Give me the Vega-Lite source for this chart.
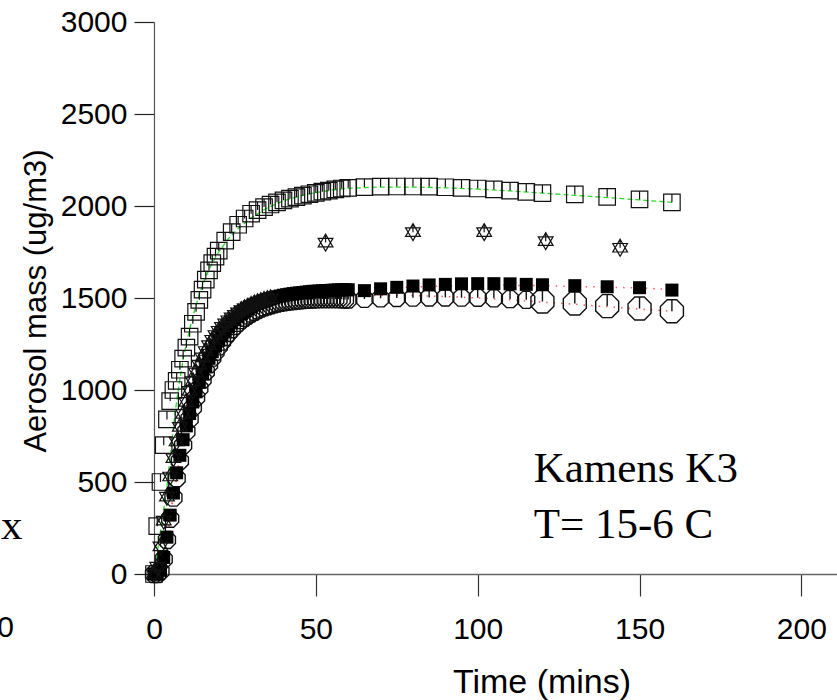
{
  "$schema": "https://vega.github.io/schema/vega-lite/v6.json",
  "width": 683,
  "height": 552,
  "autosize": {"type": "none"},
  "padding": {"left": 154, "top": 22, "right": 0, "bottom": 126},
  "background": "white",
  "config": {"view": {"stroke": null}},
  "datasets": {
    "observed": [
      {"series": "A", "t": 0, "mass": 0}, {"series": "A", "t": 1, "mass": 260}, {"series": "A", "t": 2, "mass": 500}, {"series": "A", "t": 3, "mass": 700},
      {"series": "A", "t": 4, "mass": 840}, {"series": "A", "t": 5, "mass": 940}, {"series": "A", "t": 6, "mass": 1000}, {"series": "A", "t": 7, "mass": 1050},
      {"series": "A", "t": 8, "mass": 1110}, {"series": "A", "t": 9, "mass": 1170}, {"series": "A", "t": 10, "mass": 1230}, {"series": "A", "t": 11, "mass": 1290},
      {"series": "A", "t": 12, "mass": 1360}, {"series": "A", "t": 13, "mass": 1425}, {"series": "A", "t": 14, "mass": 1490}, {"series": "A", "t": 15, "mass": 1545},
      {"series": "A", "t": 16, "mass": 1600}, {"series": "A", "t": 17, "mass": 1650}, {"series": "A", "t": 18, "mass": 1690}, {"series": "A", "t": 19, "mass": 1725},
      {"series": "A", "t": 20, "mass": 1757}, {"series": "A", "t": 22, "mass": 1812}, {"series": "A", "t": 24, "mass": 1858}, {"series": "A", "t": 26, "mass": 1898},
      {"series": "A", "t": 28, "mass": 1932}, {"series": "A", "t": 30, "mass": 1958}, {"series": "A", "t": 32, "mass": 1978}, {"series": "A", "t": 34, "mass": 1994},
      {"series": "A", "t": 36, "mass": 2008}, {"series": "A", "t": 38, "mass": 2020}, {"series": "A", "t": 40, "mass": 2031}, {"series": "A", "t": 42, "mass": 2040},
      {"series": "A", "t": 44, "mass": 2048}, {"series": "A", "t": 46, "mass": 2056}, {"series": "A", "t": 48, "mass": 2064}, {"series": "A", "t": 50, "mass": 2071},
      {"series": "A", "t": 52, "mass": 2078}, {"series": "A", "t": 54, "mass": 2084}, {"series": "A", "t": 56, "mass": 2090}, {"series": "A", "t": 58, "mass": 2095},
      {"series": "A", "t": 60, "mass": 2099}, {"series": "A", "t": 65, "mass": 2103}, {"series": "A", "t": 70, "mass": 2105}, {"series": "A", "t": 75, "mass": 2106},
      {"series": "A", "t": 80, "mass": 2106}, {"series": "A", "t": 85, "mass": 2105}, {"series": "A", "t": 90, "mass": 2102}, {"series": "A", "t": 95, "mass": 2098},
      {"series": "A", "t": 100, "mass": 2095}, {"series": "A", "t": 105, "mass": 2090}, {"series": "A", "t": 110, "mass": 2084}, {"series": "A", "t": 115, "mass": 2077},
      {"series": "A", "t": 120, "mass": 2070}, {"series": "A", "t": 130, "mass": 2063}, {"series": "A", "t": 140, "mass": 2050}, {"series": "A", "t": 150, "mass": 2036},
      {"series": "A", "t": 160, "mass": 2020},

      {"series": "B", "t": 0, "mass": 0}, {"series": "B", "t": 1, "mass": 0}, {"series": "B", "t": 2, "mass": 20}, {"series": "B", "t": 3, "mass": 90},
      {"series": "B", "t": 4, "mass": 200}, {"series": "B", "t": 5, "mass": 320}, {"series": "B", "t": 6, "mass": 440}, {"series": "B", "t": 7, "mass": 550},
      {"series": "B", "t": 8, "mass": 645}, {"series": "B", "t": 9, "mass": 730}, {"series": "B", "t": 10, "mass": 805}, {"series": "B", "t": 11, "mass": 872},
      {"series": "B", "t": 12, "mass": 935}, {"series": "B", "t": 13, "mass": 990}, {"series": "B", "t": 14, "mass": 1042}, {"series": "B", "t": 15, "mass": 1090},
      {"series": "B", "t": 16, "mass": 1133}, {"series": "B", "t": 17, "mass": 1172}, {"series": "B", "t": 18, "mass": 1208}, {"series": "B", "t": 19, "mass": 1240},
      {"series": "B", "t": 20, "mass": 1270}, {"series": "B", "t": 21, "mass": 1297}, {"series": "B", "t": 22, "mass": 1322}, {"series": "B", "t": 23, "mass": 1344},
      {"series": "B", "t": 24, "mass": 1365}, {"series": "B", "t": 25, "mass": 1383}, {"series": "B", "t": 26, "mass": 1400}, {"series": "B", "t": 27, "mass": 1415},
      {"series": "B", "t": 28, "mass": 1428}, {"series": "B", "t": 29, "mass": 1440}, {"series": "B", "t": 30, "mass": 1451}, {"series": "B", "t": 31, "mass": 1461},
      {"series": "B", "t": 32, "mass": 1470}, {"series": "B", "t": 33, "mass": 1478}, {"series": "B", "t": 34, "mass": 1485}, {"series": "B", "t": 35, "mass": 1491},
      {"series": "B", "t": 36, "mass": 1497}, {"series": "B", "t": 37, "mass": 1502}, {"series": "B", "t": 38, "mass": 1507}, {"series": "B", "t": 39, "mass": 1511},
      {"series": "B", "t": 40, "mass": 1515}, {"series": "B", "t": 41, "mass": 1518}, {"series": "B", "t": 42, "mass": 1521}, {"series": "B", "t": 43, "mass": 1524},
      {"series": "B", "t": 44, "mass": 1526}, {"series": "B", "t": 45, "mass": 1528}, {"series": "B", "t": 46, "mass": 1530}, {"series": "B", "t": 47, "mass": 1532},
      {"series": "B", "t": 48, "mass": 1534}, {"series": "B", "t": 49, "mass": 1536}, {"series": "B", "t": 50, "mass": 1537}, {"series": "B", "t": 51, "mass": 1538},
      {"series": "B", "t": 52, "mass": 1539}, {"series": "B", "t": 53, "mass": 1540}, {"series": "B", "t": 54, "mass": 1541}, {"series": "B", "t": 55, "mass": 1542},
      {"series": "B", "t": 56, "mass": 1543}, {"series": "B", "t": 57, "mass": 1544}, {"series": "B", "t": 58, "mass": 1544}, {"series": "B", "t": 59, "mass": 1545},
      {"series": "B", "t": 60, "mass": 1545}, {"series": "B", "t": 65, "mass": 1540}, {"series": "B", "t": 70, "mass": 1550}, {"series": "B", "t": 75, "mass": 1558},
      {"series": "B", "t": 80, "mass": 1565}, {"series": "B", "t": 85, "mass": 1571}, {"series": "B", "t": 90, "mass": 1574}, {"series": "B", "t": 95, "mass": 1577},
      {"series": "B", "t": 100, "mass": 1578}, {"series": "B", "t": 105, "mass": 1578}, {"series": "B", "t": 110, "mass": 1577}, {"series": "B", "t": 115, "mass": 1574},
      {"series": "B", "t": 120, "mass": 1572}, {"series": "B", "t": 130, "mass": 1567}, {"series": "B", "t": 140, "mass": 1561}, {"series": "B", "t": 150, "mass": 1556},
      {"series": "B", "t": 160, "mass": 1543},

      {"series": "C", "t": 0, "mass": 0}, {"series": "C", "t": 1, "mass": 0}, {"series": "C", "t": 2, "mass": 15}, {"series": "C", "t": 3, "mass": 80},
      {"series": "C", "t": 4, "mass": 185}, {"series": "C", "t": 5, "mass": 300}, {"series": "C", "t": 6, "mass": 415}, {"series": "C", "t": 7, "mass": 520},
      {"series": "C", "t": 8, "mass": 615}, {"series": "C", "t": 9, "mass": 700}, {"series": "C", "t": 10, "mass": 775}, {"series": "C", "t": 11, "mass": 843},
      {"series": "C", "t": 12, "mass": 905}, {"series": "C", "t": 13, "mass": 960}, {"series": "C", "t": 14, "mass": 1010}, {"series": "C", "t": 15, "mass": 1057},
      {"series": "C", "t": 16, "mass": 1100}, {"series": "C", "t": 17, "mass": 1140}, {"series": "C", "t": 18, "mass": 1176}, {"series": "C", "t": 19, "mass": 1208},
      {"series": "C", "t": 20, "mass": 1237}, {"series": "C", "t": 21, "mass": 1263}, {"series": "C", "t": 22, "mass": 1288}, {"series": "C", "t": 23, "mass": 1310},
      {"series": "C", "t": 24, "mass": 1330}, {"series": "C", "t": 25, "mass": 1348}, {"series": "C", "t": 26, "mass": 1365}, {"series": "C", "t": 27, "mass": 1380},
      {"series": "C", "t": 28, "mass": 1393}, {"series": "C", "t": 29, "mass": 1405}, {"series": "C", "t": 30, "mass": 1416}, {"series": "C", "t": 31, "mass": 1425},
      {"series": "C", "t": 32, "mass": 1434}, {"series": "C", "t": 33, "mass": 1442}, {"series": "C", "t": 34, "mass": 1449}, {"series": "C", "t": 35, "mass": 1455},
      {"series": "C", "t": 36, "mass": 1461}, {"series": "C", "t": 37, "mass": 1466}, {"series": "C", "t": 38, "mass": 1470}, {"series": "C", "t": 39, "mass": 1474},
      {"series": "C", "t": 40, "mass": 1477}, {"series": "C", "t": 41, "mass": 1480}, {"series": "C", "t": 42, "mass": 1482}, {"series": "C", "t": 43, "mass": 1484},
      {"series": "C", "t": 44, "mass": 1486}, {"series": "C", "t": 45, "mass": 1488}, {"series": "C", "t": 46, "mass": 1489}, {"series": "C", "t": 47, "mass": 1490},
      {"series": "C", "t": 48, "mass": 1491}, {"series": "C", "t": 49, "mass": 1492}, {"series": "C", "t": 50, "mass": 1493}, {"series": "C", "t": 51, "mass": 1494},
      {"series": "C", "t": 52, "mass": 1494}, {"series": "C", "t": 53, "mass": 1494}, {"series": "C", "t": 54, "mass": 1494}, {"series": "C", "t": 55, "mass": 1494},
      {"series": "C", "t": 56, "mass": 1494}, {"series": "C", "t": 57, "mass": 1494}, {"series": "C", "t": 58, "mass": 1493}, {"series": "C", "t": 59, "mass": 1492},
      {"series": "C", "t": 60, "mass": 1492}, {"series": "C", "t": 65, "mass": 1495}, {"series": "C", "t": 70, "mass": 1498}, {"series": "C", "t": 75, "mass": 1500},
      {"series": "C", "t": 80, "mass": 1502}, {"series": "C", "t": 85, "mass": 1503}, {"series": "C", "t": 90, "mass": 1503}, {"series": "C", "t": 95, "mass": 1502},
      {"series": "C", "t": 100, "mass": 1501}, {"series": "C", "t": 105, "mass": 1498}, {"series": "C", "t": 110, "mass": 1494}, {"series": "C", "t": 115, "mass": 1490},
      {"series": "C", "t": 120, "mass": 1481}, {"series": "C", "t": 130, "mass": 1470}, {"series": "C", "t": 140, "mass": 1456}, {"series": "C", "t": 150, "mass": 1443},
      {"series": "C", "t": 160, "mass": 1428},

      {"series": "D", "t": 0, "mass": 0}, {"series": "D", "t": 1, "mass": 40}, {"series": "D", "t": 2, "mass": 150}, {"series": "D", "t": 3, "mass": 290},
      {"series": "D", "t": 4, "mass": 420}, {"series": "D", "t": 5, "mass": 530}, {"series": "D", "t": 6, "mass": 630}, {"series": "D", "t": 7, "mass": 720},
      {"series": "D", "t": 8, "mass": 800}, {"series": "D", "t": 9, "mass": 870}, {"series": "D", "t": 10, "mass": 935}, {"series": "D", "t": 11, "mass": 995},
      {"series": "D", "t": 12, "mass": 1048}, {"series": "D", "t": 13, "mass": 1095}, {"series": "D", "t": 14, "mass": 1138}, {"series": "D", "t": 15, "mass": 1177},
      {"series": "D", "t": 16, "mass": 1212}, {"series": "D", "t": 17, "mass": 1244}, {"series": "D", "t": 18, "mass": 1273}, {"series": "D", "t": 19, "mass": 1299},
      {"series": "D", "t": 20, "mass": 1322}, {"series": "D", "t": 21, "mass": 1343}, {"series": "D", "t": 22, "mass": 1362}, {"series": "D", "t": 23, "mass": 1379},
      {"series": "D", "t": 24, "mass": 1395}, {"series": "D", "t": 25, "mass": 1409}, {"series": "D", "t": 26, "mass": 1422}, {"series": "D", "t": 27, "mass": 1434},
      {"series": "D", "t": 28, "mass": 1444}, {"series": "D", "t": 29, "mass": 1453}, {"series": "D", "t": 30, "mass": 1462}, {"series": "D", "t": 31, "mass": 1470},
      {"series": "D", "t": 32, "mass": 1477}, {"series": "D", "t": 33, "mass": 1483}, {"series": "D", "t": 34, "mass": 1489}, {"series": "D", "t": 35, "mass": 1494},
      {"series": "D", "t": 36, "mass": 1498},
      {"series": "D", "t": 53, "mass": 1801}, {"series": "D", "t": 80, "mass": 1858}, {"series": "D", "t": 102, "mass": 1858},
      {"series": "D", "t": 121, "mass": 1809}, {"series": "D", "t": 144, "mass": 1773}
    ],
    "model": [
      {"series": "A", "t": 0, "mass": 0}, {"series": "A", "t": 2, "mass": 230}, {"series": "A", "t": 4, "mass": 470}, {"series": "A", "t": 5, "mass": 640},
      {"series": "A", "t": 6, "mass": 800}, {"series": "A", "t": 7, "mass": 940}, {"series": "A", "t": 8, "mass": 1060}, {"series": "A", "t": 9, "mass": 1165},
      {"series": "A", "t": 10, "mass": 1255}, {"series": "A", "t": 12, "mass": 1400}, {"series": "A", "t": 14, "mass": 1520}, {"series": "A", "t": 16, "mass": 1615},
      {"series": "A", "t": 18, "mass": 1690}, {"series": "A", "t": 20, "mass": 1750}, {"series": "A", "t": 23, "mass": 1822}, {"series": "A", "t": 26, "mass": 1878},
      {"series": "A", "t": 30, "mass": 1935}, {"series": "A", "t": 35, "mass": 1990}, {"series": "A", "t": 40, "mass": 2028}, {"series": "A", "t": 45, "mass": 2054},
      {"series": "A", "t": 50, "mass": 2073}, {"series": "A", "t": 55, "mass": 2087}, {"series": "A", "t": 60, "mass": 2096}, {"series": "A", "t": 70, "mass": 2103},
      {"series": "A", "t": 80, "mass": 2103}, {"series": "A", "t": 90, "mass": 2099}, {"series": "A", "t": 100, "mass": 2092}, {"series": "A", "t": 110, "mass": 2082},
      {"series": "A", "t": 120, "mass": 2070}, {"series": "A", "t": 130, "mass": 2058}, {"series": "A", "t": 140, "mass": 2046}, {"series": "A", "t": 150, "mass": 2033},
      {"series": "A", "t": 160, "mass": 2020},

      {"series": "B", "t": 0, "mass": 0}, {"series": "B", "t": 2, "mass": 20}, {"series": "B", "t": 4, "mass": 200}, {"series": "B", "t": 6, "mass": 440},
      {"series": "B", "t": 8, "mass": 645}, {"series": "B", "t": 10, "mass": 805}, {"series": "B", "t": 12, "mass": 935}, {"series": "B", "t": 14, "mass": 1042},
      {"series": "B", "t": 16, "mass": 1133}, {"series": "B", "t": 18, "mass": 1208}, {"series": "B", "t": 20, "mass": 1270}, {"series": "B", "t": 25, "mass": 1384},
      {"series": "B", "t": 30, "mass": 1451}, {"series": "B", "t": 35, "mass": 1491}, {"series": "B", "t": 40, "mass": 1515}, {"series": "B", "t": 45, "mass": 1528},
      {"series": "B", "t": 50, "mass": 1537}, {"series": "B", "t": 55, "mass": 1542}, {"series": "B", "t": 60, "mass": 1546}, {"series": "B", "t": 70, "mass": 1552},
      {"series": "B", "t": 80, "mass": 1560}, {"series": "B", "t": 90, "mass": 1566}, {"series": "B", "t": 100, "mass": 1569}, {"series": "B", "t": 110, "mass": 1569},
      {"series": "B", "t": 120, "mass": 1567}, {"series": "B", "t": 130, "mass": 1563}, {"series": "B", "t": 140, "mass": 1559}, {"series": "B", "t": 150, "mass": 1554},
      {"series": "B", "t": 160, "mass": 1547},

      {"series": "C", "t": 0, "mass": 0}, {"series": "C", "t": 2, "mass": 15}, {"series": "C", "t": 4, "mass": 185}, {"series": "C", "t": 6, "mass": 415},
      {"series": "C", "t": 8, "mass": 615}, {"series": "C", "t": 10, "mass": 775}, {"series": "C", "t": 12, "mass": 905}, {"series": "C", "t": 14, "mass": 1010},
      {"series": "C", "t": 16, "mass": 1100}, {"series": "C", "t": 18, "mass": 1176}, {"series": "C", "t": 20, "mass": 1237}, {"series": "C", "t": 25, "mass": 1350},
      {"series": "C", "t": 30, "mass": 1416}, {"series": "C", "t": 35, "mass": 1456}, {"series": "C", "t": 40, "mass": 1480}, {"series": "C", "t": 45, "mass": 1494},
      {"series": "C", "t": 50, "mass": 1503}, {"series": "C", "t": 60, "mass": 1511}, {"series": "C", "t": 70, "mass": 1514}, {"series": "C", "t": 80, "mass": 1513},
      {"series": "C", "t": 90, "mass": 1508}, {"series": "C", "t": 100, "mass": 1500}, {"series": "C", "t": 110, "mass": 1490}, {"series": "C", "t": 120, "mass": 1478},
      {"series": "C", "t": 130, "mass": 1466}, {"series": "C", "t": 140, "mass": 1452}, {"series": "C", "t": 150, "mass": 1440}, {"series": "C", "t": 160, "mass": 1428}
    ],
    "notes": [
      {"t": 117.3, "mass": 502, "label": "Kamens K3"},
      {"t": 117.3, "mass": 198, "label": "T= 15-6 C"}
    ],
    "edge_labels": [
      {"kind": "serif", "t": -40.6, "mass": 188, "label": "x"},
      {"kind": "tick", "t": -51, "mass": -340, "label": "200"}
    ]
  },
  "encoding": {
    "x": {
      "field": "t",
      "type": "quantitative",
      "scale": {"domain": [0, 211], "nice": false, "zero": false},
      "axis": {
        "title": "Time (mins)",
        "values": [0, 50, 100, 150, 200],
        "format": "d",
        "grid": false,
        "tickSize": 22,
        "tickColor": "#333333",
        "tickWidth": 1.2,
        "domainColor": "#666666",
        "domainWidth": 1.5,
        "labelFont": "Liberation Sans",
        "labelFontSize": 30,
        "labelColor": "#000000",
        "labelBaseline": "alphabetic",
        "labelPadding": 42,
        "labelFlush": false,
        "labelOverlap": false,
        "titleFont": "Liberation Sans",
        "titleFontSize": 34,
        "titleFontWeight": "normal",
        "titleColor": "#000000",
        "titleX": 387.5,
        "titleY": 118.5,
        "titleBaseline": "alphabetic",
        "titleAlign": "center"
      }
    },
    "y": {
      "field": "mass",
      "type": "quantitative",
      "scale": {"domain": [0, 3000], "nice": false},
      "axis": {
        "title": "Aerosol mass (ug/m3)",
        "values": [0, 500, 1000, 1500, 2000, 2500, 3000],
        "format": "d",
        "grid": false,
        "tickSize": 20,
        "tickColor": "#222222",
        "tickWidth": 1.2,
        "domainColor": "#555555",
        "domainWidth": 1.2,
        "labelFont": "Liberation Sans",
        "labelFontSize": 30,
        "labelColor": "#000000",
        "labelPadding": 7,
        "labelBaseline": "middle",
        "labelFlush": false,
        "labelOverlap": false,
        "titleFont": "Liberation Sans",
        "titleFontSize": 31,
        "titleFontWeight": "normal",
        "titleColor": "#000000",
        "titleAngle": -90,
        "titleX": -109,
        "titleY": 278.5,
        "titleBaseline": "alphabetic",
        "titleAlign": "center"
      }
    }
  },
  "layer": [
    {
      "data": {"values": [{}]},
      "mark": {"type": "rule", "color": "#777777", "strokeWidth": 1.5},
      "encoding": {"x": {"datum": 0}, "x2": {"datum": 211}, "y": {"datum": 3000}}
    },
    {
      "data": {"name": "model"},
      "transform": [{"filter": "datum.series === 'A'"}],
      "mark": {"type": "line", "color": "#22dd22", "strokeWidth": 1.3, "strokeDash": [5, 3], "clip": true}
    },
    {
      "data": {"name": "model"},
      "transform": [{"filter": "datum.series === 'B'"}],
      "mark": {"type": "line", "color": "#ff5a5a", "strokeWidth": 1.5, "strokeDash": [1.5, 6], "clip": true}
    },
    {
      "data": {"name": "model"},
      "transform": [{"filter": "datum.series === 'C'"}],
      "mark": {"type": "line", "color": "#ff5a5a", "strokeWidth": 1.5, "strokeDash": [1.5, 6], "clip": true}
    },
    {
      "data": {"name": "observed"},
      "transform": [{"filter": "datum.series === 'A'"}],
      "mark": {
        "type": "point",
        "shape": "M-1,-1L1,-1L1,1L-1,1Z M0,-1L0,0",
        "filled": false,
        "stroke": "#111111",
        "strokeWidth": 1.2,
        "size": 272,
        "opacity": 1
      }
    },
    {
      "data": {"name": "observed"},
      "transform": [{"filter": "datum.series === 'C'"}],
      "mark": {
        "type": "point",
        "shape": "M-0.414,-1L0.414,-1L1,-0.414L1,0.414L0.414,1L-0.414,1L-1,0.414L-1,-0.414Z M0,-1L0,0",
        "filled": false,
        "stroke": "#111111",
        "strokeWidth": 1.4,
        "opacity": 1
      },
      "encoding": {
        "size": {"condition": {"test": "datum.t >= 120", "value": 529}, "value": 289}
      }
    },
    {
      "data": {"name": "observed"},
      "transform": [{"filter": "datum.series === 'B'"}],
      "mark": {"type": "point", "shape": "square", "filled": true, "color": "#000000", "size": 169, "opacity": 1}
    },
    {
      "data": {"name": "observed"},
      "transform": [{"filter": "datum.series === 'D'"}],
      "mark": {
        "type": "point",
        "shape": "M0,-1L0.866,0.5L-0.866,0.5Z M0,1L0.866,-0.5L-0.866,-0.5Z M0,-1L0,0",
        "filled": false,
        "stroke": "#111111",
        "strokeWidth": 1.2,
        "size": 289,
        "opacity": 1
      }
    },
    {
      "data": {"name": "notes"},
      "mark": {"type": "text", "font": "Liberation Serif", "fontSize": 43, "align": "left", "baseline": "alphabetic", "color": "#000000"},
      "encoding": {"text": {"field": "label"}}
    },
    {
      "data": {"name": "edge_labels"},
      "transform": [{"filter": "datum.kind === 'serif'"}],
      "mark": {"type": "text", "font": "Liberation Serif", "fontSize": 43, "align": "right", "baseline": "alphabetic", "color": "#000000"},
      "encoding": {"text": {"field": "label"}}
    },
    {
      "data": {"name": "edge_labels"},
      "transform": [{"filter": "datum.kind === 'tick'"}],
      "mark": {"type": "text", "font": "Liberation Sans", "fontSize": 30, "align": "center", "baseline": "alphabetic", "color": "#000000"},
      "encoding": {"text": {"field": "label"}}
    }
  ]
}
